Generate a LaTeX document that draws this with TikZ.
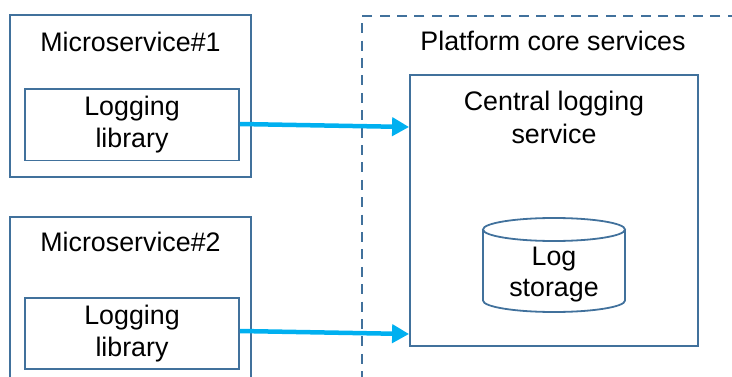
\documentclass[tikz,border=0pt]{standalone}
\usepackage{fontspec}
\setmainfont{Liberation Sans}
\usetikzlibrary{arrows.meta}
\definecolor{boxblue}{HTML}{41719C}
\definecolor{flowcyan}{HTML}{00B0F0}
\begin{document}
\begin{tikzpicture}[x=1pt,y=1pt,
  txt/.style={font=\fontsize{26.8}{32}\selectfont, align=center, inner sep=0pt, text=black},
  box/.style={draw=boxblue, line width=1.8pt, rectangle, inner sep=0pt},
  groupbox/.style={draw=boxblue, line width=1.8pt, dash pattern=on 10pt off 7.4pt},
  cyl/.style={draw=boxblue, line width=1.8pt},
  flow/.style={draw=flowcyan, line width=4.5pt, -{Triangle[length=17pt,width=18pt]}}]
\useasboundingbox (0,0) rectangle (732,376);
\begin{scope}
\clip (0,0) rectangle (732,376);
% left microservices
\node[box, minimum width=241pt, minimum height=162pt] (ms1) at (130.5,280) {};
\node[txt, anchor=base] (ms1t) at (130.5,324) {Microservice\#1};
\node[box, txt, minimum width=214pt, minimum height=71.5pt] (lib1) at (132,251.25) {Logging\\library};

\node[box, minimum width=241pt, minimum height=183pt] (ms2) at (130.5,67.5) {};
\node[txt, anchor=base] (ms2t) at (130.5,124.3) {Microservice\#2};
\node[box, txt, minimum width=214pt, minimum height=71pt] (lib2) at (132,42.5) {Logging\\library};

% platform group
\node[groupbox, rectangle, minimum width=398pt, minimum height=380pt, inner sep=0pt] (plat) at (561,170) {};
\node[txt, anchor=base] (platt) at (553,326) {Platform core services};

\node[box, minimum width=288pt, minimum height=271pt] (central) at (554,165.5) {};
\node[txt, anchor=base] (centralt1) at (554,266) {Central logging};
\node[txt, anchor=base] (centralt2) at (554,233) {service};

% log storage cylinder
\draw[cyl] (554,146.5) ellipse [x radius=71, y radius=11.5];
\draw[cyl] (483,146.5) -- (483,75.5) arc[start angle=180, end angle=360, x radius=71, y radius=11.5] -- (625,146.5);
\node[txt, anchor=base] (stor1) at (554,111) {Log};
\node[txt, anchor=base] (stor2) at (554,80) {storage};

% connectors
\coordinate (in1) at (central.west |- 0,249);
\coordinate (in2) at (central.west |- 0,42);
\coordinate (out1) at (lib1.east |- 0,252);
\coordinate (out2) at (lib2.east |- 0,45);
\draw[flow] (out1) -- (in1);
\draw[flow] (out2) -- (in2);
\end{scope}
\end{tikzpicture}
\end{document}
